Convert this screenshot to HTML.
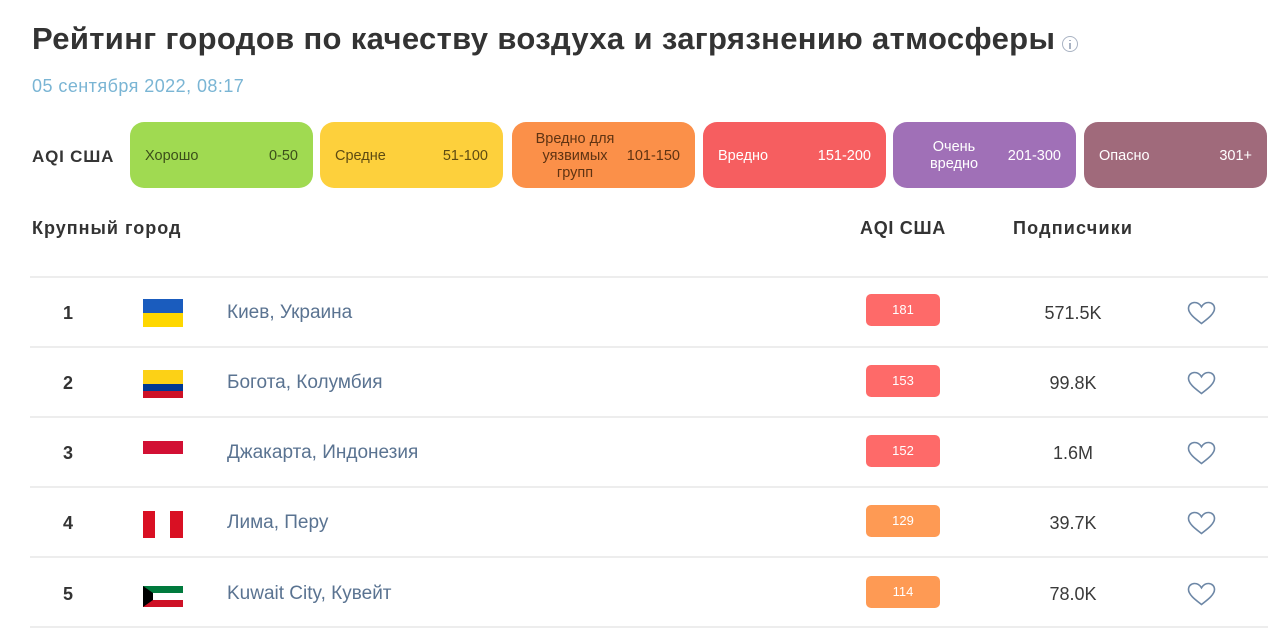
<!DOCTYPE html>
<html>
<head>
<meta charset="utf-8">
<style>
  html, body { margin:0; padding:0; background:#fff; }
  body { width:1280px; height:629px; position:relative; overflow:hidden;
         font-family:"Liberation Sans","Noto Sans CJK SC",sans-serif; color:#353535; }
  .abs { position:absolute; white-space:nowrap; }
  .title { left:32px; top:19px; height:40px; line-height:40px; font-size:31px; font-weight:bold; letter-spacing:0.35px; color:#333; }
  .info { left:1062px; top:36px; width:14px; height:14px; border:1.3px solid #a9b3c3; border-radius:50%; }
  .info:before { content:""; position:absolute; left:6.3px; top:2.5px; width:1.5px; height:1.5px; background:#a9b3c3; }
  .info:after { content:""; position:absolute; left:6.3px; top:5.5px; width:1.5px; height:6px; background:#a9b3c3; }
  .date { left:32px; top:73px; height:26px; line-height:26px; font-size:18px; color:#7ab5d4; letter-spacing:0.45px; }
  .aqilab { left:32px; top:144px; height:26px; line-height:26px; font-size:17px; font-weight:bold; letter-spacing:0.8px; color:#353535; }
  .box { position:absolute; top:122px; height:66px; width:183px; border-radius:14px; font-size:14.5px; }
  .box .l { position:absolute; left:15px; top:1px; height:66px; line-height:66px; }
  .box .r { position:absolute; right:15px; top:1px; height:66px; line-height:66px; }
  .box .ml { position:absolute; top:1px; height:66px; display:flex; flex-direction:column; justify-content:center; text-align:center; line-height:17px; }
  .hdr { top:215px; height:26px; line-height:26px; font-size:18px; font-weight:bold; color:#333; }
  .sep { position:absolute; left:30px; width:1238px; height:2px; background:#ededed; }
  .rank { position:absolute; left:54px; width:28px; text-align:center; font-size:18px; font-weight:bold; color:#333; height:26px; line-height:26px; }
  .city { position:absolute; left:227px; font-size:19px; color:#5a7391; height:26px; line-height:26px; white-space:nowrap; }
  .badge { position:absolute; left:866px; width:74px; height:32px; line-height:32px; border-radius:5px; text-align:center; color:#fff; font-size:13px; }
  .subs { position:absolute; left:1013px; width:120px; text-align:center; font-size:18px; color:#3a3a3a; height:26px; line-height:26px; }
  .heart { position:absolute; left:1187px; width:29px; height:24px; }
  .flag { position:absolute; left:143px; width:40px; }
</style>
</head>
<body>
  <div class="abs title">Рейтинг городов по качеству воздуха и загрязнению атмосферы</div>
  <div class="abs info"></div>
  <div class="abs date">05 сентября 2022, 08:17</div>

  <div class="abs aqilab">AQI США</div>

  <div class="box" style="left:130px;background:#a0da51;color:#3b4f1a;">
    <span class="l">Хорошо</span><span class="r">0-50</span>
  </div>
  <div class="box" style="left:320px;background:#fdd03c;color:#5e4b12;">
    <span class="l">Средне</span><span class="r">51-100</span>
  </div>
  <div class="box" style="left:512px;background:#fb9049;color:#5f3312;">
    <span class="ml" style="left:14px;width:98px;"><span>Вредно для</span><span>уязвимых</span><span>групп</span></span>
    <span class="r">101-150</span>
  </div>
  <div class="box" style="left:703px;background:#f65e60;color:#fff;">
    <span class="l">Вредно</span><span class="r">151-200</span>
  </div>
  <div class="box" style="left:893px;background:#a070b7;color:#fff;">
    <span class="ml" style="left:14px;width:94px;"><span>Очень</span><span>вредно</span></span>
    <span class="r">201-300</span>
  </div>
  <div class="box" style="left:1084px;background:#a06a7b;color:#fff;">
    <span class="l">Опасно</span><span class="r">301+</span>
  </div>

  <div class="abs hdr" style="left:32px;letter-spacing:1px;">Крупный город</div>
  <div class="abs hdr" style="left:860px;letter-spacing:0.7px;">AQI США</div>
  <div class="abs hdr" style="left:1013px;letter-spacing:1.2px;">Подписчики</div>

  <div class="sep" style="top:276px;"></div>
  <div class="sep" style="top:346px;"></div>
  <div class="sep" style="top:416px;"></div>
  <div class="sep" style="top:486px;"></div>
  <div class="sep" style="top:556px;"></div>
  <div class="sep" style="top:626px;"></div>

  <!-- Row 1 -->
  <div class="rank" style="top:300px;">1</div>
  <div class="flag" style="top:299px;height:28px;">
    <div style="height:14px;background:#1a5cbe;"></div><div style="height:14px;background:#fed700;"></div>
  </div>
  <div class="city" style="top:300px;">Киев, Украина</div>
  <div class="badge" style="top:294px;background:#fe6a69;">181</div>
  <div class="subs" style="top:300px;">571.5K</div>
  <svg class="heart" style="top:301px;" viewBox="0 0 29 24"><path d="M14.5 22.5 C 11 19.5, 1.5 13.5, 1.5 7.5 C 1.5 3.8, 4.3 1.5, 7.6 1.5 C 10.6 1.5, 13 3.3, 14.5 5.8 C 16 3.3, 18.4 1.5, 21.4 1.5 C 24.7 1.5, 27.5 3.8, 27.5 7.5 C 27.5 13.5, 18 19.5, 14.5 22.5 Z" fill="none" stroke="#6d87a6" stroke-width="1.6"/></svg>

  <!-- Row 2 -->
  <div class="rank" style="top:370px;">2</div>
  <div class="flag" style="top:370px;height:28px;">
    <div style="height:14px;background:#fcd116;"></div><div style="height:7px;background:#003893;"></div><div style="height:7px;background:#ce1126;"></div>
  </div>
  <div class="city" style="top:370px;">Богота, Колумбия</div>
  <div class="badge" style="top:365px;background:#fe6a69;">153</div>
  <div class="subs" style="top:370px;">99.8K</div>
  <svg class="heart" style="top:371px;" viewBox="0 0 29 24"><path d="M14.5 22.5 C 11 19.5, 1.5 13.5, 1.5 7.5 C 1.5 3.8, 4.3 1.5, 7.6 1.5 C 10.6 1.5, 13 3.3, 14.5 5.8 C 16 3.3, 18.4 1.5, 21.4 1.5 C 24.7 1.5, 27.5 3.8, 27.5 7.5 C 27.5 13.5, 18 19.5, 14.5 22.5 Z" fill="none" stroke="#6d87a6" stroke-width="1.6"/></svg>

  <!-- Row 3 -->
  <div class="rank" style="top:440px;">3</div>
  <div class="flag" style="top:441px;height:27px;">
    <div style="height:13px;background:#d21034;"></div><div style="height:14px;background:#fff;"></div>
  </div>
  <div class="city" style="top:440px;">Джакарта, Индонезия</div>
  <div class="badge" style="top:435px;background:#fe6a69;">152</div>
  <div class="subs" style="top:440px;">1.6M</div>
  <svg class="heart" style="top:441px;" viewBox="0 0 29 24"><path d="M14.5 22.5 C 11 19.5, 1.5 13.5, 1.5 7.5 C 1.5 3.8, 4.3 1.5, 7.6 1.5 C 10.6 1.5, 13 3.3, 14.5 5.8 C 16 3.3, 18.4 1.5, 21.4 1.5 C 24.7 1.5, 27.5 3.8, 27.5 7.5 C 27.5 13.5, 18 19.5, 14.5 22.5 Z" fill="none" stroke="#6d87a6" stroke-width="1.6"/></svg>

  <!-- Row 4 -->
  <div class="rank" style="top:510px;">4</div>
  <div class="flag" style="top:511px;height:27px;display:flex;">
    <div style="width:12px;background:#d91023;"></div><div style="width:15px;background:#fff;"></div><div style="width:13px;background:#d91023;"></div>
  </div>
  <div class="city" style="top:510px;">Лима, Перу</div>
  <div class="badge" style="top:505px;background:#fe9a54;">129</div>
  <div class="subs" style="top:510px;">39.7K</div>
  <svg class="heart" style="top:511px;" viewBox="0 0 29 24"><path d="M14.5 22.5 C 11 19.5, 1.5 13.5, 1.5 7.5 C 1.5 3.8, 4.3 1.5, 7.6 1.5 C 10.6 1.5, 13 3.3, 14.5 5.8 C 16 3.3, 18.4 1.5, 21.4 1.5 C 24.7 1.5, 27.5 3.8, 27.5 7.5 C 27.5 13.5, 18 19.5, 14.5 22.5 Z" fill="none" stroke="#6d87a6" stroke-width="1.6"/></svg>

  <!-- Row 5 -->
  <div class="rank" style="top:581px;">5</div>
  <svg class="flag" style="top:586px;height:21px;" viewBox="0 0 40 21">
    <rect x="0" y="0" width="40" height="7" fill="#007a3d"/>
    <rect x="0" y="7" width="40" height="7" fill="#ffffff"/>
    <rect x="0" y="14" width="40" height="7" fill="#ce1126"/>
    <polygon points="0,0 10,7 10,14 0,21" fill="#000"/>
  </svg>
  <div class="city" style="top:581px;">Kuwait City, Кувейт</div>
  <div class="badge" style="top:576px;background:#fe9a54;">114</div>
  <div class="subs" style="top:581px;">78.0K</div>
  <svg class="heart" style="top:582px;" viewBox="0 0 29 24"><path d="M14.5 22.5 C 11 19.5, 1.5 13.5, 1.5 7.5 C 1.5 3.8, 4.3 1.5, 7.6 1.5 C 10.6 1.5, 13 3.3, 14.5 5.8 C 16 3.3, 18.4 1.5, 21.4 1.5 C 24.7 1.5, 27.5 3.8, 27.5 7.5 C 27.5 13.5, 18 19.5, 14.5 22.5 Z" fill="none" stroke="#6d87a6" stroke-width="1.6"/></svg>
</body>
</html>
